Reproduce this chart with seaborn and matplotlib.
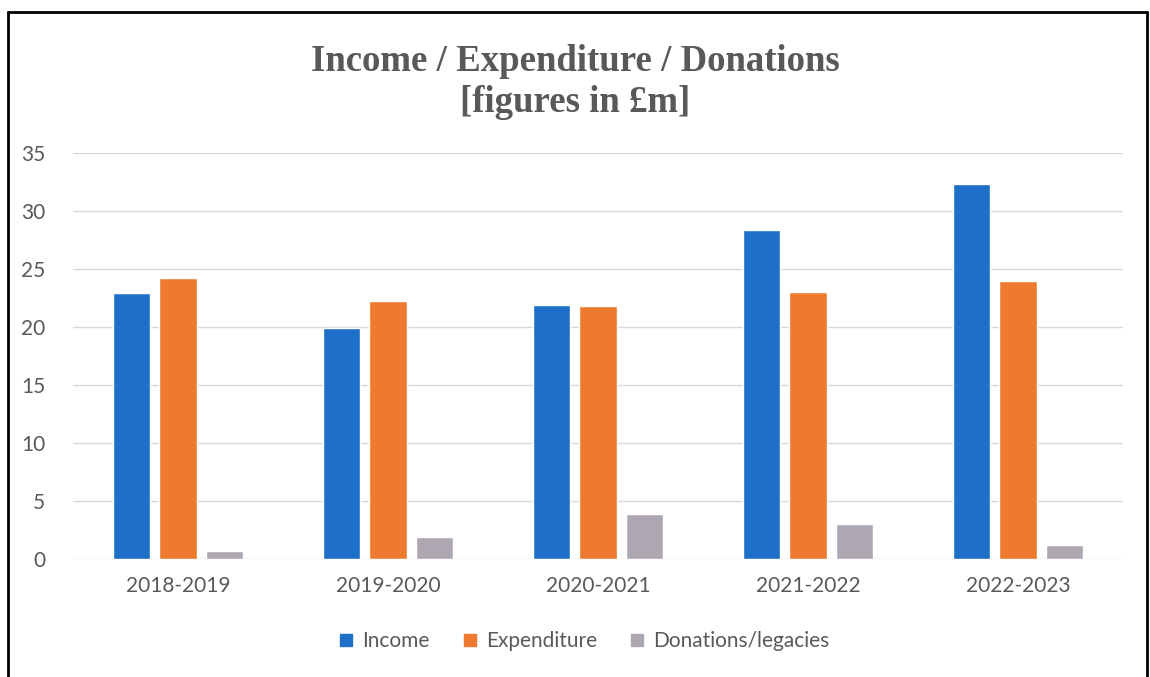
import matplotlib
matplotlib.use("Agg")
import matplotlib.pyplot as plt
import seaborn as sns
import pandas as pd
from matplotlib.lines import Line2D

years = ["2018-2019", "2019-2020", "2020-2021", "2021-2022", "2022-2023"]
income = [22.9, 19.9, 21.9, 28.4, 32.3]
expenditure = [24.2, 22.2, 21.8, 23.0, 24.0]
donations = [0.7, 1.9, 3.9, 3.0, 1.2]
series_names = ["Income", "Expenditure", "Donations/legacies"]
yticks = [0, 5, 10, 15, 20, 25, 30, 35]

colors = ["#1E6FC8", "#EE7A30", "#ADA7B2"]

rows = []
for name, vals in zip(series_names, [income, expenditure, donations]):
    for y, v in zip(years, vals):
        rows.append({"Year": y, "Series": name, "Value": v})
df = pd.DataFrame(rows)

sns.set_theme(style="white")
plt.rcParams["font.family"] = ["Lato", "DejaVu Sans"]

fig = plt.figure(figsize=(11.5, 6.77), dpi=100)
ax = fig.add_axes([73 / 1150, 1 - 559 / 677, 1050 / 1150, (559 - 153) / 677])

sns.barplot(data=df, x="Year", y="Value", hue="Series", order=years,
            hue_order=series_names, palette=colors, width=0.67, gap=0.21,
            saturation=1, ax=ax, legend=False)

ax.set_ylim(0, 35)
ax.set_xlim(-0.5, 4.5)
ax.set_yticks(yticks)
ax.set_yticklabels([str(t) for t in yticks])
ax.yaxis.grid(True, color="#D9D9D9", linewidth=1.0)
ax.set_axisbelow(True)
for s in ax.spines.values():
    s.set_visible(False)
ax.set_xlabel("")
ax.set_ylabel("")
ax.tick_params(axis="both", length=0, colors="#595959", labelsize=15)
ax.tick_params(axis="y", pad=20)
ax.tick_params(axis="x", pad=12)

fig.text(0.5, 1 - 82 / 677, "Income / Expenditure / Donations\n[figures in £m]",
         ha="center", va="center", fontsize=26.5, fontweight="bold",
         color="#595959", family=["Liberation Serif", "DejaVu Serif"],
         linespacing=1.25)

handles = [Line2D([0], [0], marker="s", linestyle="none", markersize=9,
                  markerfacecolor=c, markeredgecolor=c) for c in colors]
fig.legend(handles, series_names, loc="center", bbox_to_anchor=(0.508, 1 - 641 / 677),
           ncol=3, frameon=False, fontsize=15, handlelength=0.7, handletextpad=0.4,
           columnspacing=1.6, labelcolor="#595959")

# scanned frame
frame_kw = dict(color="black", linewidth=2.0, transform=fig.transFigure)
fig.add_artist(Line2D([8 / 1150, 8 / 1150], [0, 1 - 12 / 677], **frame_kw))
fig.add_artist(Line2D([8 / 1150, 1147 / 1150], [1 - 12 / 677, 1 - 12 / 677], **frame_kw))
fig.add_artist(Line2D([1147 / 1150, 1147 / 1150], [0, 1 - 12 / 677], **frame_kw))

fig.savefig("out.png", dpi=100)
